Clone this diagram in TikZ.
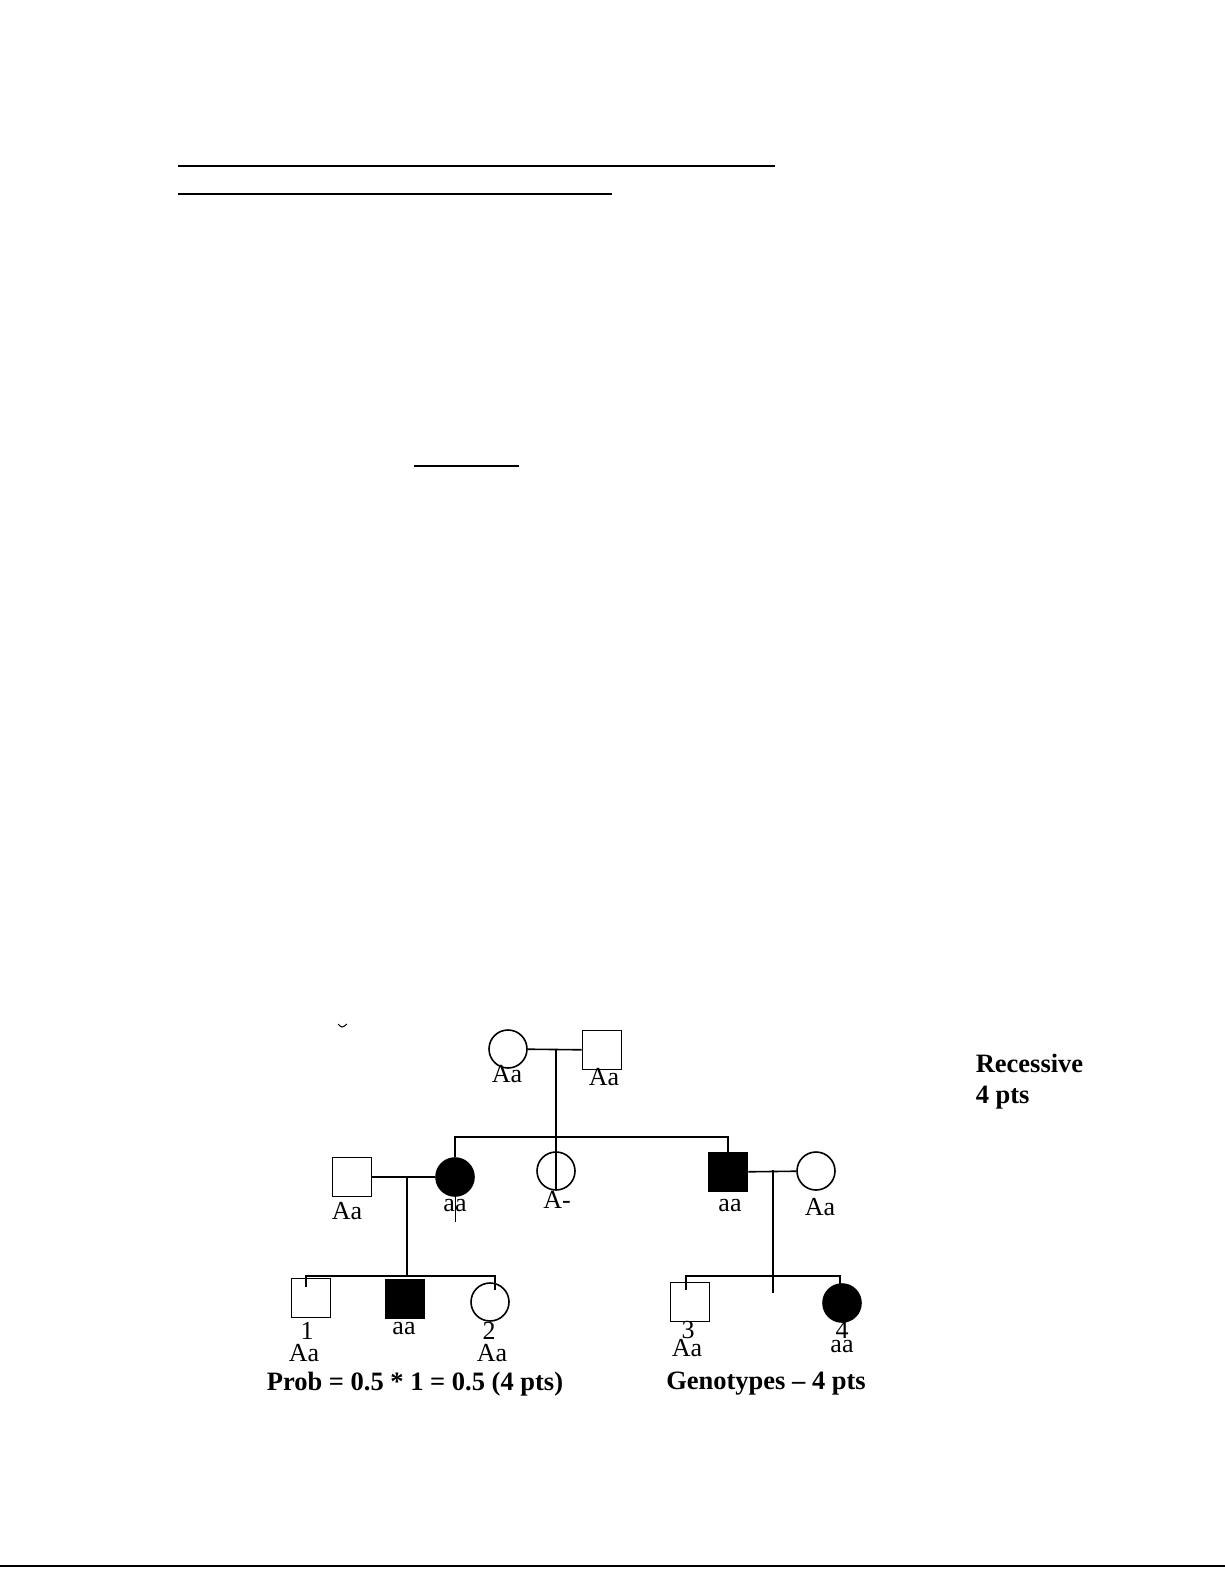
\documentclass[tikz,border=0pt]{standalone}
\usepackage{fontspec}
\setmainfont{Liberation Serif}
\begin{document}
\begin{tikzpicture}[x=1pt,y=-1pt,line width=1.6pt,
  lab/.style={font=\fontsize{26}{26}\selectfont,inner sep=0},
  bl/.style={font=\bfseries\fontsize{26.5}{31}\selectfont,inner sep=0},
  fem/.style={draw,circle,minimum size=38pt,inner sep=0},
  mal/.style={draw,rectangle,minimum size=39pt,inner sep=0},
  aff/.style={fill=black}]
\useasboundingbox (0,0) rectangle (1225,1585);
\draw[line width=2pt] (178,166) -- (775,166);
\draw[line width=2pt] (178,194) -- (612,194);
\draw[line width=1.5pt] (414,466) -- (519,466);
\draw[line width=2pt] (0,1566) -- (1225,1566);
\draw[line width=1pt] (338,1024) .. controls (342,1028) .. (347,1024);
% Gen I
\node[fem] (i1) at (508,1049) {};
\node[mal] (i2) at (602,1050) {};
\coordinate (m1) at (556,1049);
\draw (i1) -- (i2);
% Gen II
\node[mal] (ii1) at (352,1177) {};
\node[fem,aff] (ii2) at (455,1177) {};
\node[fem] (ii3) at (556,1171) {};
\node[mal,aff] (ii4) at (728,1172) {};
\node[fem] (ii5) at (816,1171) {};
\draw (m1) -- (556,1190);
\draw (ii2.north) |- (556,1137) -| (ii4.north);
\draw (ii1) -- (ii2);
\draw (ii4) -- (ii5);
\draw[line width=1pt] (455,1185) -- (455,1222);
% Gen III
\node[mal] (iii1) at (311,1298) {};
\node[mal,aff] (iii2) at (405,1299) {};
\node[fem] (iii3) at (490,1302) {};
\node[mal] (iii4) at (690,1302) {};
\node[fem,aff] (iii5) at (842,1303) {};
\draw (407,1178) -- (407,1276);
\draw (306,1287) -- (306,1276) -- (495,1276) -- (495,1290);
\draw (773,1170) -- (773,1293);
\draw (686,1290) -- (686,1276) -- (840,1276) -- (840,1286);
% labels
\node[lab] (t1) at (507,1074) {Aa};
\node[lab] (t2) at (604,1077) {Aa};
\node[lab] (t3) at (347,1211) {Aa};
\node[lab] (t4) at (455,1206) {aa};
\node[lab] (t5) at (557,1200) {A-};
\node[lab] (t6) at (730,1206) {aa};
\node[lab] (t7) at (820,1207) {Aa};
\node[lab] (n1) at (307,1331) {1};
\node[lab] (t8) at (304,1353) {Aa};
\node[lab] (t9) at (404,1329) {aa};
\node[lab] (n2) at (489,1331) {2};
\node[lab] (t10) at (492,1353) {Aa};
\node[lab] (n3) at (688,1330) {3};
\node[lab] (t11) at (687,1348) {Aa};
\node[lab] (n4) at (842,1330) {4};
\node[lab] (t12) at (842,1347) {aa};
\node[bl] (p) at (415,1384) {Prob = 0.5 * 1 = 0.5 (4 pts)};
\node[bl] (g) at (766,1384) {Genotypes – 4 pts};
\node[bl,anchor=north west,align=left] (r) at (975,1053) {Recessive\\4 pts};
\end{tikzpicture}
\end{document}
